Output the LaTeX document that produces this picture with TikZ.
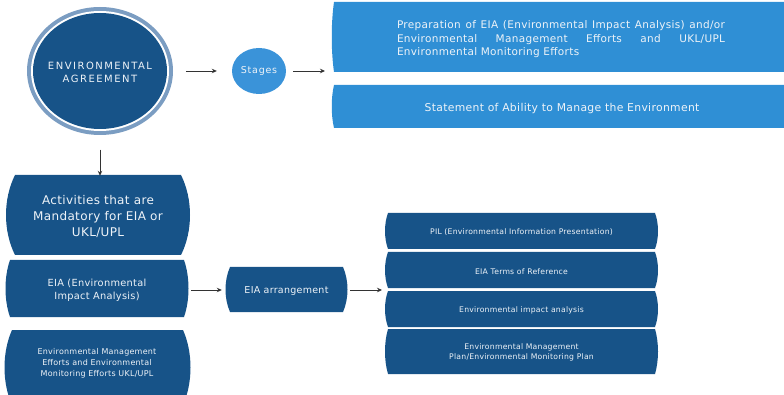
\documentclass[tikz,border=0pt]{standalone}
\usepackage{fontspec}
\setmainfont{DejaVu Sans}
\newfontfamily\wf[LetterSpace=3]{DejaVu Sans}
\newfontfamily\wfs[LetterSpace=8]{DejaVu Sans}
\newfontfamily\wfc[LetterSpace=15]{DejaVu Sans}
\usetikzlibrary{arrows.meta,shapes.geometric}
\definecolor{dk}{HTML}{175388}
\definecolor{lt}{HTML}{2F8FD5}
\definecolor{ringc}{HTML}{7B9DC2}
\definecolor{stc}{HTML}{3A93D9}
\definecolor{arrc}{HTML}{333333}
\definecolor{txt}{HTML}{EEF3F8}
\newcommand\brl[6]{%
  \fill[#1] (#2,#3) .. controls ({#2-#6},{#3+0.3*(#5-#3)}) and ({#2-#6},{#5-0.3*(#5-#3)}) .. (#2,#5)
    -- (#4,#5) .. controls ({#4+#6},{#5-0.3*(#5-#3)}) and ({#4+#6},{#3+0.3*(#5-#3)}) .. (#4,#3) -- cycle;}
\begin{document}
\begin{tikzpicture}[x=1pt,y=-1pt,
  lbl/.style={text=txt, align=center, inner sep=0pt, font=\wf},
  arr/.style={draw=arrc, line width=0.8pt, -{Stealth[length=5pt,width=4.5pt]}}]
\useasboundingbox (0,0) rectangle (784,395);
\clip (0,0) rectangle (784,395);
% environmental agreement
\fill[ringc] (100,71) ellipse [x radius=73pt, y radius=64pt];
\fill[white] (100,71) ellipse [x radius=69pt, y radius=60pt];
\fill[dk] (100,71) ellipse [x radius=67pt, y radius=58pt];
\node[lbl, ellipse, minimum width=146pt, minimum height=128pt,
  font=\wfc\fontsize{10}{13}\selectfont] (agree) at (100,72.5) {ENVIRONMENTAL\\AGREEMENT};
% stages
\node[lbl, ellipse, fill=stc, minimum width=54pt, minimum height=46pt,
  font=\wfs\fontsize{9.5}{10}\selectfont] (stages) at (259,71) {Stages};
% top right boxes
\brl{lt}{334}{2}{800}{72}{3}
\node[lbl, font=\wf\fontsize{10.5}{13.5}\selectfont] (box1) at (561,39.5)
  {\parbox{328pt}{\makebox[328pt][s]{Preparation of EIA (Environmental Impact Analysis) and/or}\\
   \makebox[328pt][s]{Environmental Management Efforts and UKL/UPL}\\
   Environmental Monitoring Efforts}};
\brl{lt}{334}{85}{800}{128}{3}
\node[lbl, font=\wf\fontsize{10.8}{12}\selectfont] (box2) at (562,109)
  {Statement of Ability to Manage the Environment};
% left column
\brl{dk}{15}{175}{181}{255}{12}
\node[lbl, font=\wf\fontsize{12}{16}\selectfont, minimum width=166pt, minimum height=80pt] (act) at (98,216)
  {Activities that are\\Mandatory for EIA or\\UKL/UPL};
\brl{dk}{10}{260}{184}{317}{6}
\node[lbl, font=\wf\fontsize{9.8}{13}\selectfont, minimum width=174pt, minimum height=57pt] (eia) at (97,290.5)
  {EIA (Environmental\\Impact Analysis)};
\brl{dk}{12}{330}{183}{405}{10}
\node[lbl, font=\wf\fontsize{8}{10.8}\selectfont] (ukl) at (97,363.5)
  {Environmental Management\\Efforts and Environmental\\Monitoring Efforts UKL/UPL};
% arrangement
\brl{dk}{230}{267}{343}{312}{6}
\node[lbl, font=\wf\fontsize{9.5}{12}\selectfont, minimum width=113pt, minimum height=45pt] (arr) at (286.5,291)
  {EIA arrangement};
% right stack
\brl{dk}{388}{213}{655}{249}{4}
\node[lbl, font=\wf\fontsize{7.7}{9}\selectfont, minimum width=267pt, minimum height=36pt] (pil) at (521.5,232.5) {PIL (Environmental Information Presentation)};
\brl{dk}{388}{252}{655}{288}{4}
\node[lbl, font=\wf\fontsize{7.7}{9}\selectfont, minimum width=267pt, minimum height=36pt] (tor) at (521.5,271.5) {EIA Terms of Reference};
\brl{dk}{388}{291}{655}{327}{4}
\node[lbl, font=\wf\fontsize{7.7}{9}\selectfont, minimum width=267pt, minimum height=36pt] (ana) at (521.5,310.5) {Environmental impact analysis};
\brl{dk}{388}{329}{655}{374}{4}
\node[lbl, font=\wf\fontsize{7.7}{10}\selectfont, minimum width=267pt, minimum height=45pt] (emp) at (521.5,352.5) {Environmental Management\\Plan/Environmental Monitoring Plan};
% connectors
\coordinate (tgt1) at (332,71);
\coordinate (tgt2) at (388,290);
\draw[arr, shorten <=12pt, shorten >=15pt] (agree.east |- stages) -- (stages.west);
\draw[arr, shorten <=7pt, shorten >=7pt] (stages.east) -- (tgt1);
\draw[arr, shorten <=13pt] (agree.south) -- (agree.south |- act.north);
\draw[arr, shorten <=7pt, shorten >=8pt] (eia.east |- tgt2) -- (arr.west |- tgt2);
\draw[arr, shorten <=7pt, shorten >=6pt] (arr.east |- tgt2) -- (tgt2);
\end{tikzpicture}
\end{document}
